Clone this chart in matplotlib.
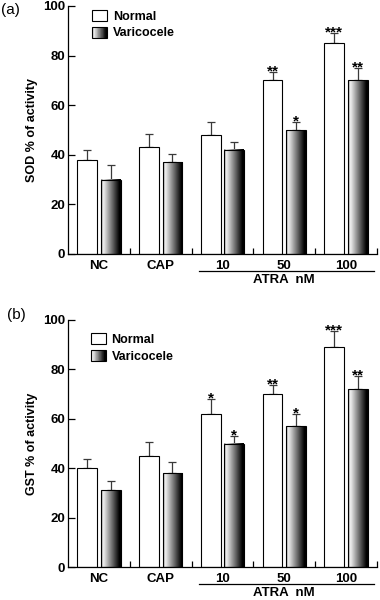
import numpy as np
import matplotlib
matplotlib.use('Agg')
import matplotlib.pyplot as plt
from matplotlib.patches import Rectangle, Patch
from matplotlib.colors import LinearSegmentedColormap
from matplotlib.legend_handler import HandlerBase
import matplotlib.transforms as mtransforms

plt.rcParams['font.family'] = ['Liberation Sans', 'DejaVu Sans']
plt.rcParams['font.weight'] = 'bold'

# data
groups = ['NC', 'CAP', '10', '50', '100']

sod_normal = [38, 43, 48, 70, 85]
sod_normal_err = [4, 5.5, 5.3, 3.5, 4.3]
sod_varic = [30, 37, 42, 50, 70]
sod_varic_err = [6, 3.5, 3, 3.3, 5]
sod_normal_sig = ['', '', '', '**', '***']
sod_varic_sig = ['', '', '', '*', '**']

gst_normal = [40, 45, 62, 70, 89]
gst_normal_err = [3.8, 5.5, 6, 3.5, 6.5]
gst_varic = [31, 38, 50, 57, 72]
gst_varic_err = [4, 4.5, 3, 5, 5.5]
gst_normal_sig = ['', '', '*', '**', '***']
gst_varic_sig = ['', '', '*', '*', '**']

# grey -> white -> black shading of the varicocele bars
grad_cmap = LinearSegmentedColormap.from_list(
    'bargrad', [(0.0, '#8c8c8c'), (0.12, '#f2f2f2'), (0.92, '#000000'), (1.0, '#000000')])
grad = np.linspace(0, 1, 256).reshape(1, -1)


class GradientHandler(HandlerBase):
    def create_artists(self, legend, orig_handle, xdescent, ydescent,
                       width, height, fontsize, trans):
        n = 40
        arts = []
        for i in range(n):
            arts.append(Rectangle((-xdescent + width * i / n, -ydescent), width / n * 1.1, height,
                                  facecolor=grad_cmap((i + 0.5) / n), edgecolor='none',
                                  transform=trans))
        arts.append(Rectangle((-xdescent, -ydescent), width, height, facecolor='none',
                              edgecolor='black', lw=0.8, transform=trans))
        return arts


def panel(ax, normal, normal_err, varic, varic_err, normal_sig, varic_sig, ylabel, leg_xy):
    x = np.arange(len(groups))
    w = 0.32
    off = 0.19
    b1 = ax.bar(x - off, normal, w, color='white', edgecolor='black', lw=0.8, zorder=2)
    b2 = ax.bar(x + off, varic, w, color='none', edgecolor='black', lw=0.8, zorder=3)
    for bar in b2:
        ax.imshow(grad, cmap=grad_cmap, aspect='auto', zorder=2,
                  extent=[bar.get_x(), bar.get_x() + bar.get_width(), 0, bar.get_height()])

    ax.errorbar(x - off, normal, yerr=[np.zeros(len(x)), normal_err], fmt='none',
                ecolor='#3a3a3a', elinewidth=0.9, capsize=3.2, capthick=0.9, zorder=1)
    ax.errorbar(x + off, varic, yerr=[np.zeros(len(x)), varic_err], fmt='none',
                ecolor='#3a3a3a', elinewidth=0.9, capsize=3.2, capthick=0.9, zorder=1)

    for xi, v, e, s in zip(x - off, normal, normal_err, normal_sig):
        if s:
            ax.annotate(s, (xi, v + e), xytext=(0, -2.5), textcoords='offset points',
                        ha='center', va='baseline', fontsize=11, fontweight='bold')
    for xi, v, e, s in zip(x + off, varic, varic_err, varic_sig):
        if s:
            ax.annotate(s, (xi, v + e), xytext=(0, -2.5), textcoords='offset points',
                        ha='center', va='baseline', fontsize=11, fontweight='bold')

    ax.set_xlim(-0.5, 4.5)
    ax.set_ylim(0, 100)
    for sp in ['top', 'right']:
        ax.spines[sp].set_visible(False)
    for sp in ['left', 'bottom']:
        ax.spines[sp].set_linewidth(0.9)

    ax.set_yticks([0, 20, 40, 60, 80, 100])
    ax.tick_params(axis='y', direction='in', length=5, width=0.9, pad=2, labelsize=9.5)
    ax.set_xticks(x + 0.5)
    ax.set_xticklabels([])
    ax.set_xticks(x, minor=True)
    ax.set_xticklabels(groups, minor=True)
    ax.tick_params(axis='x', which='major', direction='in', length=4.3, width=0.9)
    ax.tick_params(axis='x', which='minor', length=0, pad=4, labelsize=9.5)

    ax.set_ylabel(ylabel, fontsize=9, fontweight='bold')
    ax.yaxis.set_label_coords(-0.097, 0.5)

    # underline + label for ATRA doses
    tr = mtransforms.blended_transform_factory(ax.transData, ax.transAxes)
    ax.plot([2 - 0.38, 4 + 0.45], [-0.07, -0.07], color='black', lw=0.9,
            transform=tr, clip_on=False)
    ax.text(3, -0.105, 'ATRA  nM', transform=tr, ha='center', va='center',
            fontsize=9.5, fontweight='bold')

    proxy = Patch(facecolor='none', edgecolor='black')
    ax.legend([b1, proxy], ['Normal', 'Varicocele'], handler_map={proxy: GradientHandler()},
              loc='upper left', bbox_to_anchor=leg_xy, frameon=False, borderpad=0,
              borderaxespad=0, handlelength=1.2, handleheight=1.0, handletextpad=0.45,
              labelspacing=0.3, prop={'size': 9, 'weight': 'bold'})


fig = plt.figure(figsize=(3.8, 6.0), dpi=100)
ax_a = fig.add_axes([68 / 380, (600 - 254) / 600, 309 / 380, 248 / 600])
ax_b = fig.add_axes([68 / 380, (600 - 567) / 600, 309 / 380, 247 / 600])

panel(ax_a, sod_normal, sod_normal_err, sod_varic, sod_varic_err,
      sod_normal_sig, sod_varic_sig, 'SOD % of activity', (0.078, 0.984))
panel(ax_b, gst_normal, gst_normal_err, gst_varic, gst_varic_err,
      gst_normal_sig, gst_varic_sig, 'GST % of activity', (0.074, 0.947))

fig.text(1 / 380, 1 - 10 / 600, '(a)', ha='left', va='center', fontsize=11, fontweight='normal')
fig.text(7 / 380, 1 - 315 / 600, '(b)', ha='left', va='center', fontsize=11, fontweight='normal')

fig.savefig('out.png', dpi=100)
